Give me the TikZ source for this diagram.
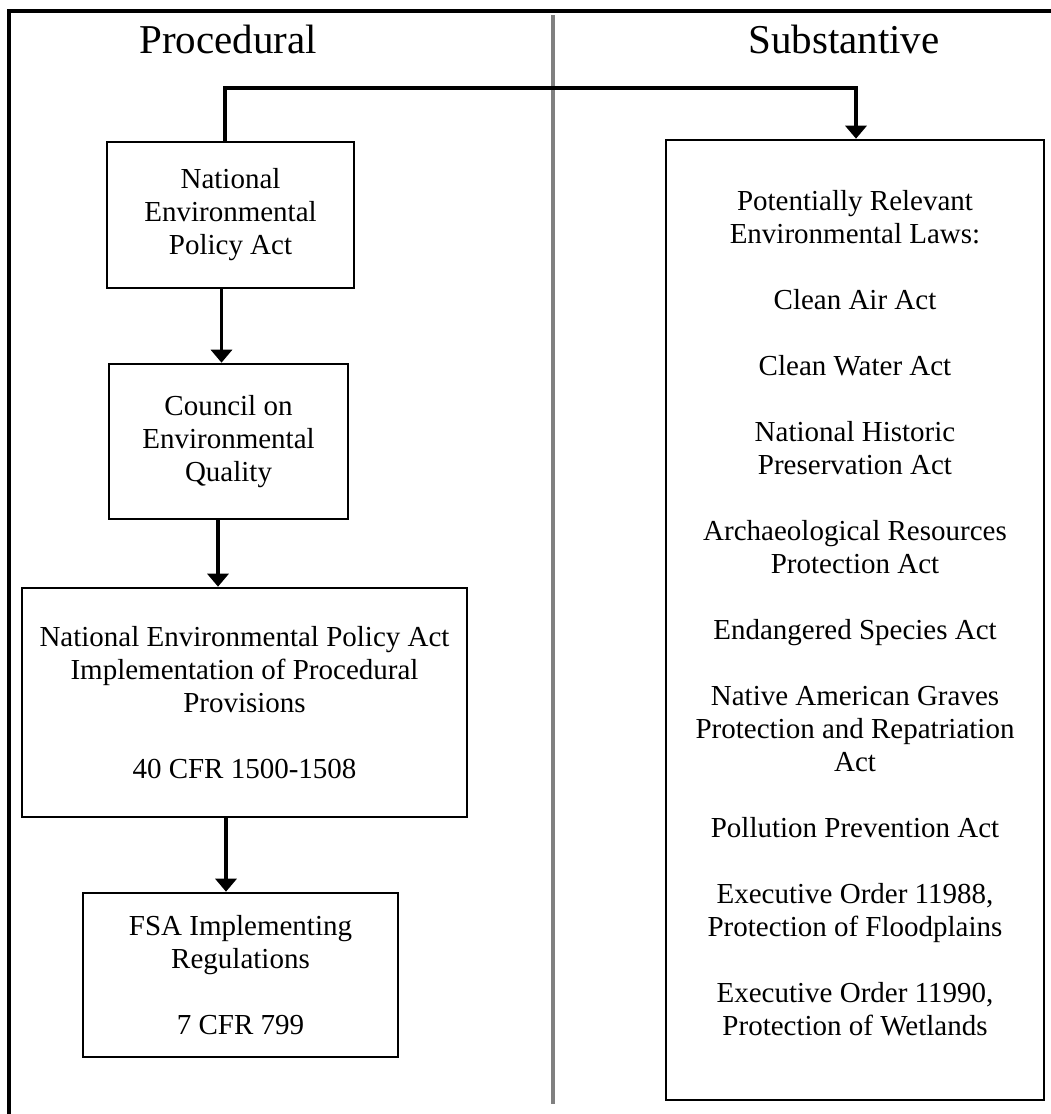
\documentclass[tikz,border=0pt]{standalone}
\usepackage{fontspec}
\setmainfont{Liberation Serif}
\usetikzlibrary{arrows.meta}
\tikzset{
  box/.style={draw=black, line width=2.6pt, fill=white, align=center, inner sep=0pt,
    font=\fontsize{29pt}{33pt}\selectfont},
  boxtext/.style={align=center, inner sep=0pt, font=\fontsize{29pt}{33pt}\selectfont},
  heading/.style={inner sep=0pt, anchor=base, font=\fontsize{41pt}{45pt}\selectfont},
  conn/.style={draw=black, line width=3.8pt, line join=miter},
  arr/.style={conn, -{Triangle[width=21pt,length=13pt]}},
  frameline/.style={draw=black, line width=4pt},
  divider/.style={draw=black!50, line width=4.5pt}
}
\begin{document}
\begin{tikzpicture}[x=1pt,y=-1pt]
\useasboundingbox (0,0) rectangle (1051,1114);
% frame and divider
\draw[frameline] (9,11) -- (1051,11);
\draw[frameline] (9,9) -- (9,1114);
\draw[divider] (553,15) -- (553,1104);
% headings
\node[heading] (hproc) at (228,53) {Procedural};
\node[heading] (hsubs) at (844,53) {Substantive};
% boxes
\node[box, minimum width=247pt, minimum height=146pt] (nepa) at (230.5,215)
  {National\\Environmental\\Policy Act};
\node[box, minimum width=239pt, minimum height=155pt] (ceq) at (228.5,441.5)
  {Council on\\Environmental\\Quality};
\node[box, minimum width=445pt, minimum height=229pt] (impl) at (244.5,702.5)
  {National Environmental Policy Act\\Implementation of Procedural\\Provisions\\[33pt]40 CFR 1500-1508};
\node[box, minimum width=315pt, minimum height=164pt] (fsa) at (240.5,975)
  {FSA Implementing\\Regulations\\[33pt]7 CFR 799};
\node[box, minimum width=378pt, minimum height=960pt] (rbox) at (855,620) {};
\node[boxtext] (rtext) at (855,613.5)
  {Potentially Relevant\\Environmental Laws:\\[33pt]
   Clean Air Act\\[33pt]
   Clean Water Act\\[33pt]
   National Historic\\Preservation Act\\[33pt]
   Archaeological Resources\\Protection Act\\[33pt]
   Endangered Species Act\\[33pt]
   Native American Graves\\Protection and Repatriation\\Act\\[33pt]
   Pollution Prevention Act\\[33pt]
   Executive Order 11988,\\Protection of Floodplains\\[33pt]
   Executive Order 11990,\\Protection of Wetlands};
% connectors
\coordinate (topbar) at (553,88);
\draw[arr] ([xshift=-5.5pt]nepa.north) |- (topbar) -| ([xshift=1pt]rbox.north);
\draw[arr] ([xshift=-9pt]nepa.south) -- ([xshift=-9pt]nepa.south |- ceq.north);
\draw[arr] ([xshift=-10.5pt]ceq.south) -- ([xshift=-10.5pt]ceq.south |- impl.north);
\draw[arr] ([xshift=-18.5pt]impl.south) -- ([xshift=-18.5pt]impl.south |- fsa.north);
\end{tikzpicture}
\end{document}
